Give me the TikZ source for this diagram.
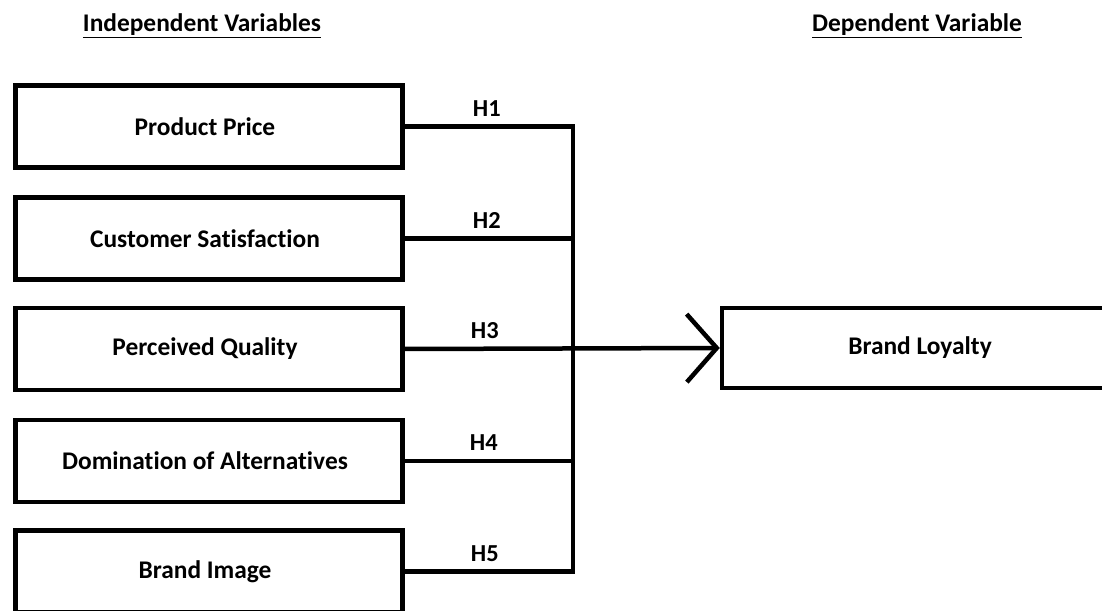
\documentclass[tikz,border=0pt]{standalone}
\usepackage{fontspec}
\setmainfont{Carlito}[Ligatures=NoCommon]
\usetikzlibrary{arrows.meta,calc}
\begin{document}
\begin{tikzpicture}[x=1bp,y=-1bp,
  ivbox/.style={draw, line width=4.5bp, minimum width=387bp, minimum height=82bp, inner sep=0pt, font=\fontsize{25.5}{30}\selectfont\bfseries},
  conn/.style={line width=4.5bp},
  hlab/.style={font=\fontsize{24.5}{28}\selectfont\bfseries, inner sep=1pt},
  title/.style={font=\fontsize{25.5}{30}\selectfont\bfseries}]
\useasboundingbox (0,0) rectangle (1102,611);
\node[title] (ti) at (202,26) {\underline{Independent Variables}};
\node[title] (td) at (917,26) {\underline{Dependent Variable}};
\node[ivbox] (b1) at (209,126.5) {\hspace*{-8bp}Product Price};
\node[ivbox] (b2) at (209,238.5) {\hspace*{-8bp}Customer Satisfaction};
\node[ivbox] (b3) at (209,349) {\hspace*{-8bp}Perceived Quality};
\node[ivbox] (b4) at (209,461) {\hspace*{-8bp}Domination of Alternatives};
\node[ivbox] (b5) at (209,571.5) {\hspace*{-8bp}Brand Image};
\node[draw, line width=4.5bp, minimum width=400bp, minimum height=80bp, inner sep=0pt, font=\fontsize{25.5}{30}\selectfont\bfseries] (bl) at (922,348) {\hspace*{-4bp}Brand Loyalty};
\coordinate (u1) at (573,126.5);
\coordinate (u5) at (573,571.5);
\draw[conn, line join=miter] (b1.east) -- (u1) -- (u5) -- (b5.east);
\draw[conn] (b2.east) -- (b2.east -| u1);
\draw[conn] (b4.east) -- (b4.east -| u1);
\draw[conn, -{Straight Barb[length=30bp 0 0, width=68bp 0 0]}] (b3.east) -- (bl.west);
\node[hlab] at ($(b1.east)!0.5!(u1)+(-2,-18)$) {H1};
\node[hlab] at ($(b2.east)!0.5!(b2.east -| u1)+(-2,-18)$) {H2};
\node[hlab] at ($(b3.east)!0.5!(b3.east -| u1)+(-4,-18)$) {H3};
\node[hlab] at ($(b4.east)!0.5!(b4.east -| u1)+(-5,-18)$) {H4};
\node[hlab] at ($(b5.east)!0.5!(u5)+(-4,-18)$) {H5};
\end{tikzpicture}
\end{document}
